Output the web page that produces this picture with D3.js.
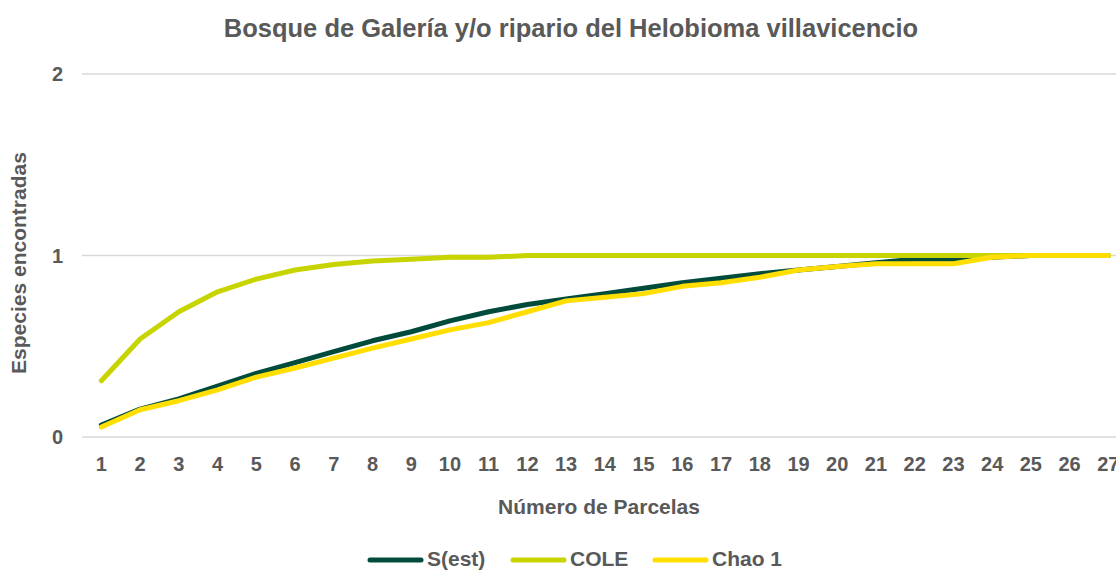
<!DOCTYPE html>
<html lang="es">
<head>
  <meta charset="UTF-8" />
  <script src="https://d3js.org/d3.v7.min.js"></script>
  <title>Bosque de Galería</title>
  <style>
    body { margin: 0; background: #fff; }
    text { font-family: "Liberation Sans", Arial, sans-serif; font-weight: bold; fill: #595959; }
  </style>
</head>
<body>
  <svg width="1116" height="570"></svg>

  <script>
    const width = 1116;
    const height = 570;

    const parcelas = d3.range(1, 28);
    const sEst = [0.066, 0.154, 0.21, 0.28, 0.35, 0.41, 0.47, 0.53, 0.58, 0.64, 0.69, 0.73, 0.76, 0.79, 0.82, 0.85, 0.875, 0.90, 0.92, 0.94, 0.96, 0.98, 0.98, 0.99, 1, 1, 1];
    const cole = [0.31, 0.54, 0.69, 0.80, 0.87, 0.92, 0.95, 0.97, 0.98, 0.99, 0.99, 1, 1, 1, 1, 1, 1, 1, 1, 1, 1, 1, 1, 1, 1, 1, 1];
    const chao1 = [0.055, 0.15, 0.20, 0.26, 0.33, 0.38, 0.435, 0.49, 0.54, 0.59, 0.63, 0.69, 0.75, 0.77, 0.79, 0.83, 0.85, 0.88, 0.92, 0.94, 0.955, 0.955, 0.955, 0.99, 1, 1, 1];
    const yTicks = [0, 1, 2];

    const series = [
      { name: "S(est)", values: sEst, color: "#004B3C" },
      { name: "COLE", values: cole, color: "#C8D400" },
      { name: "Chao 1", values: chao1, color: "#FFDE00" }
    ];

    const svg = d3.select("svg");

    const x = d3.scaleBand()
      .domain(parcelas)
      .range([82, 82 + 27 * 38.73]);

    const y = d3.scaleLinear()
      .domain([0, 2])
      .range([437, 74]);

    // gridlines
    svg.append("g")
      .selectAll("line")
      .data(yTicks)
      .enter()
      .append("line")
      .attr("x1", 82)
      .attr("x2", width)
      .attr("y1", d => y(d))
      .attr("y2", d => y(d))
      .attr("stroke", "#d9d9d9")
      .attr("stroke-width", 1.5);

    // y tick labels
    svg.append("g")
      .selectAll("text")
      .data(yTicks)
      .enter()
      .append("text")
      .attr("x", 63)
      .attr("y", d => y(d))
      .attr("dy", "0.35em")
      .attr("text-anchor", "end")
      .attr("font-size", 20)
      .text(d => d);

    // x tick labels (the last one is cut by the edge, as in the original)
    svg.append("g")
      .selectAll("text")
      .data(parcelas)
      .enter()
      .append("text")
      .attr("x", d => x(d) + x.bandwidth() / 2)
      .attr("y", 471)
      .attr("text-anchor", "middle")
      .attr("font-size", 20)
      .text(d => d);

    const line = d3.line()
      .x((d, i) => x(parcelas[i]) + x.bandwidth() / 2)
      .y(d => y(d));

    svg.append("g")
      .selectAll("path")
      .data(series)
      .enter()
      .append("path")
      .attr("d", d => line(d.values))
      .attr("fill", "none")
      .attr("stroke", d => d.color)
      .attr("stroke-width", 5)
      .attr("stroke-linecap", "round")
      .attr("stroke-linejoin", "round");

    // title
    svg.append("text")
      .attr("x", 571)
      .attr("y", 37)
      .attr("text-anchor", "middle")
      .attr("font-size", 25.5)
      .text("Bosque de Galería y/o ripario del Helobioma villavicencio");

    svg.append("text")
      .attr("x", 599)
      .attr("y", 514)
      .attr("text-anchor", "middle")
      .attr("font-size", 21)
      .text("Número de Parcelas");

    svg.append("text")
      .attr("transform", "translate(26, 263) rotate(-90)")
      .attr("text-anchor", "middle")
      .attr("font-size", 21)
      .text("Especies encontradas");

    // legend
    const legendX = [368, 511, 653];
    const legend = svg.append("g")
      .selectAll("g")
      .data(series)
      .enter()
      .append("g")
      .attr("transform", (d, i) => `translate(${legendX[i]}, 560)`);

    legend.append("line")
      .attr("x1", 2)
      .attr("x2", 53)
      .attr("stroke", d => d.color)
      .attr("stroke-width", 5)
      .attr("stroke-linecap", "round");

    legend.append("text")
      .attr("x", 59)
      .attr("y", 6)
      .attr("font-size", 21)
      .text(d => d.name);
  </script>
</body>
</html>
